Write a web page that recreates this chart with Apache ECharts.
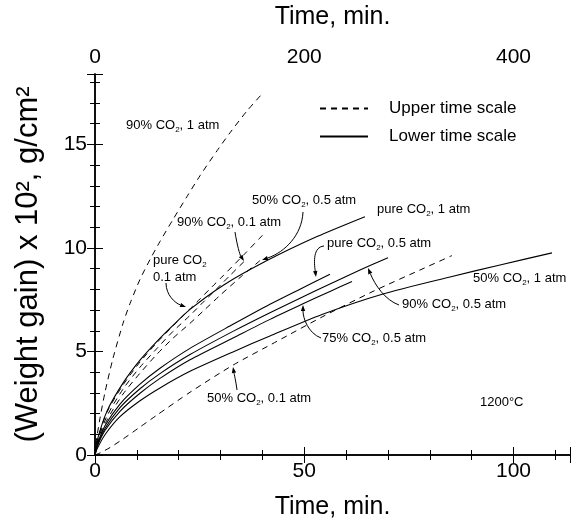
<!DOCTYPE html>
<html><head><meta charset="utf-8">
<script src="https://cdn.jsdelivr.net/npm/echarts@6/dist/echarts.min.js"></script>
<style>html,body{margin:0;padding:0;background:#fff}#c{width:571px;height:527px}</style>
</head><body><div id="c"></div>
<script>
// ---- Data ----
// Upper-time-scale curves (time in min, read on top axis); weight gain x 10^2, g/cm^2
const co2_90_1atm = [[0,0],[0.96,0.58],[4.78,1.78],[9.56,3.03],[17.2,4.67],[26.8,6.36],[33.5,7.32],[43.0,8.48],[52.6,9.44],[62.1,10.31],[74.5,11.37],[87.9,12.48],[100.4,13.49],[116.6,14.69],[129.0,15.56],[145.3,16.62],[160.6,17.49]];
const co2_50_01atm = [[0,0],[4.78,0.10],[14.34,0.36],[26.76,0.77],[43.0,1.35],[59.26,1.93],[90.8,3.03],[131.9,4.34],[173.9,5.49],[217.9,6.69],[265.7,7.90],[313.5,9.00],[341.2,9.63]];
const pure_01atm = [[0,0],[1.91,0.67],[11.47,2.07],[26.76,3.38],[43.0,4.49],[59.26,5.43],[74.55,6.23],[90.8,7.06],[100.4,7.54],[111.8,8.12],[122.3,8.65],[143.4,9.73],[160.6,10.64]];
const co2_90_01atm = [[0,0],[1.91,0.58],[11.47,1.88],[26.76,3.18],[43.0,4.24],[59.26,5.15],[74.55,5.97],[90.8,6.74],[103.2,7.37],[116.6,8.04],[129.0,8.67],[143.4,9.39]];
const co2_50_05atm = [[0,0],[1.91,0.48],[11.47,1.69],[26.76,2.94],[43.0,3.95],[59.26,4.87],[74.55,5.64],[90.8,6.36],[105.1,7.03],[119.5,7.71],[138.6,8.57],[157.7,9.39]];

// Lower-time-scale curves (time in min, read on bottom axis)
const pure_1atm = [[0,0],[0.48,0.67],[2.87,2.12],[6.69,3.47],[10.75,4.58],[14.81,5.49],[18.64,6.26],[22.7,7.03],[30.58,8.19],[41.1,9.39],[53.05,10.55],[64.5,11.51]];
const pure_05atm = [[0,0],[0.48,0.48],[2.39,1.41],[5.97,2.46],[10.75,3.42],[15.53,4.19],[22.7,5.15],[32.97,6.31],[41.8,7.28],[48.98,8.01],[56.15,8.73]];
const co2_90_05atm = [[0,0],[0.48,0.43],[2.39,1.28],[5.97,2.29],[10.75,3.20],[15.53,3.93],[22.7,4.85],[32.97,5.97],[41.8,6.87],[48.98,7.57],[56.15,8.26],[63.32,8.93],[70.01,9.53]];
const co2_75_05atm = [[0,0],[0.48,0.39],[2.39,1.18],[5.97,2.11],[10.75,2.98],[15.53,3.70],[22.7,4.60],[32.97,5.65],[41.8,6.55],[49.7,7.30],[56.15,7.90],[61.41,8.38]];
const co2_50_1atm = [[0,0],[0.48,0.29],[2.39,0.98],[5.97,1.85],[10.75,2.62],[15.53,3.24],[22.7,4.04],[32.97,4.98],[41.8,5.75],[54.24,6.79],[68.82,7.78],[84.83,8.60],[96.77,9.18],[109.2,9.76]];

const bottomTicks = [0, 50, 100];
const topTicks = [0, 200, 400];
const yTicks = [0, 5, 10, 15];

const upperCurves = [
  ['90% CO2, 1 atm', co2_90_1atm], ['50% CO2, 0.1 atm', co2_50_01atm], ['pure CO2, 0.1 atm', pure_01atm],
  ['90% CO2, 0.1 atm', co2_90_01atm], ['50% CO2, 0.5 atm', co2_50_05atm]
];
const lowerCurves = [
  ['pure CO2, 1 atm', pure_1atm], ['pure CO2, 0.5 atm', pure_05atm], ['90% CO2, 0.5 atm', co2_90_05atm],
  ['75% CO2, 0.5 atm', co2_75_05atm], ['50% CO2, 1 atm', co2_50_1atm]
];

const FONT = "'Liberation Sans', Arial, Helvetica, sans-serif";
const DASH = [6, 5];

const series = [];
upperCurves.forEach(([n, d]) => series.push({
  name: n, type: 'line', xAxisIndex: 1, yAxisIndex: 0, data: d, symbol: 'none', smooth: 0.25,
  lineStyle: { color: '#000', width: 1, type: DASH }, itemStyle: { color: '#000' }, silent: true
}));
lowerCurves.forEach(([n, d]) => series.push({
  name: n, type: 'line', xAxisIndex: 0, yAxisIndex: 0, data: d, symbol: 'none', smooth: 0.25,
  lineStyle: { color: '#000', width: 1.1 }, itemStyle: { color: '#000' }, silent: true
}));
series.push({ name: 'Upper time scale', type: 'line', xAxisIndex: 1, data: [], symbol: 'none', itemStyle: { color: '#000' }, lineStyle: { color: '#000', width: 1, type: DASH } });
series.push({ name: 'Lower time scale', type: 'line', xAxisIndex: 0, data: [], symbol: 'none', itemStyle: { color: '#000' }, lineStyle: { color: '#000', width: 1.1 } });

const axisLine = { show: true, lineStyle: { color: '#000', width: 1.5 } };
const tick = (len) => ({ show: true, inside: true, length: len, lineStyle: { color: '#000', width: 1 } });
const minor = { show: true, splitNumber: 5, length: 5, lineStyle: { color: '#000', width: 1 } };

function annot(x, y, txt) {
  return { type: 'text', x: x, y: y, silent: true, style: {
    text: txt, fill: '#000', font: '13px ' + FONT, align: 'left', verticalAlign: 'middle',
    rich: { s: { fontSize: 8, fontFamily: FONT, padding: [9, 0, 0, 0] } }
  } };
}
function arrow(p0, c1, c2, p1) {
  const ang = Math.atan2(p1[1] - c2[1], p1[0] - c2[0]);
  const L = 6, W = 2.2;
  const bx = p1[0] - L * Math.cos(ang), by = p1[1] - L * Math.sin(ang);
  const nx = -Math.sin(ang) * W, ny = Math.cos(ang) * W;
  return [
    { type: 'bezierCurve', silent: true, shape: { x1: p0[0], y1: p0[1], cpx1: c1[0], cpy1: c1[1], cpx2: c2[0], cpy2: c2[1], x2: bx, y2: by },
      style: { stroke: '#000', lineWidth: 1, fill: null } },
    { type: 'polygon', silent: true, shape: { points: [[p1[0], p1[1]], [bx + nx, by + ny], [bx - nx, by - ny]] }, style: { fill: '#000' } }
  ];
}

const graphics = [
  annot(126, 125, '90% CO{s|2}, 1 atm'),
  annot(252, 200, '50% CO{s|2}, 0.5 atm'),
  annot(177, 222, '90% CO{s|2}, 0.1 atm'),
  annot(153, 260, 'pure CO{s|2}'),
  annot(153, 277, '0.1 atm'),
  annot(377, 209, 'pure CO{s|2}, 1 atm'),
  annot(327, 243, 'pure CO{s|2}, 0.5 atm'),
  annot(473, 278, '50% CO{s|2}, 1 atm'),
  annot(402, 304, '90% CO{s|2}, 0.5 atm'),
  annot(322, 338, '75% CO{s|2}, 0.5 atm'),
  annot(207, 398, '50% CO{s|2}, 0.1 atm'),
  annot(480, 402, '1200°C'),
  ...arrow([303, 212], [302, 235], [285, 252], [262, 260]),
  ...arrow([235, 232], [237, 245], [240, 255], [244, 261]),
  ...arrow([166, 283], [166, 295], [175, 303], [186, 307]),
  ...arrow([324, 246], [313, 247], [314, 262], [316, 277]),
  ...arrow([399, 305], [385, 300], [375, 285], [368, 268]),
  ...arrow([321, 338], [308, 333], [303, 318], [303, 305]),
  ...arrow([237, 390], [236, 382], [234, 373], [233, 367])
];

const chart = echarts.init(document.getElementById('c'), null, { renderer: 'canvas' });
chart.setOption({
  animation: false,
  backgroundColor: '#fff',
  textStyle: { fontFamily: FONT, color: '#000' },
  grid: { left: 95, right: 1, top: 73, bottom: 72, containLabel: false },
  legend: {
    data: ['Upper time scale', 'Lower time scale'], orient: 'vertical', left: 314, top: 95,
    itemWidth: 48, itemHeight: 14, itemGap: 11, selectedMode: false,
    itemStyle: { opacity: 0 },
    textStyle: { fontSize: 17, fontFamily: FONT, color: '#000', padding: [0, 0, 0, 16] }
  },
  xAxis: [
    { type: 'value', position: 'bottom', min: 0, max: 113.5, interval: 50,
      name: 'Time, min.', nameLocation: 'middle', nameGap: 40,
      nameTextStyle: { fontSize: 25, fontFamily: FONT, color: '#000' },
      axisLine: axisLine, axisTick: tick(8), minorTick: minor, splitLine: { show: false },
      axisLabel: { fontSize: 21, fontFamily: FONT, color: '#000', margin: 6, showMaxLabel: false,
        formatter: v => bottomTicks.includes(v) ? String(v) : '' } },
    { type: 'value', position: 'top', min: 0, max: 454, interval: 200,
      name: 'Time, min.', nameLocation: 'middle', nameGap: 44,
      nameTextStyle: { fontSize: 25, fontFamily: FONT, color: '#000' },
      axisLine: axisLine, axisTick: tick(8), minorTick: minor, splitLine: { show: false },
      axisLabel: { fontSize: 21, fontFamily: FONT, color: '#000', margin: 6, showMaxLabel: false,
        formatter: v => topTicks.includes(v) ? String(v) : '' } }
  ],
  yAxis: [
    { type: 'value', position: 'left', min: 0, max: 18.4, interval: 5,
      name: '(Weight gain) x 10², g/cm²', nameLocation: 'middle', nameGap: 51, nameRotate: 90,
      nameTextStyle: { fontSize: 31, fontFamily: FONT, color: '#000' },
      axisLine: axisLine, axisTick: tick(8), minorTick: minor, splitLine: { show: false },
      axisLabel: { fontSize: 21, fontFamily: FONT, color: '#000', margin: 8, showMaxLabel: false,
        formatter: v => yTicks.includes(v) ? String(v) : '' } },
    { type: 'value', position: 'right', min: 0, max: 18.4, interval: 5,
      axisLine: axisLine, axisTick: tick(8), minorTick: minor, splitLine: { show: false },
      axisLabel: { show: false } }
  ],
  series: series,
  graphic: graphics
});
</script></body></html>
